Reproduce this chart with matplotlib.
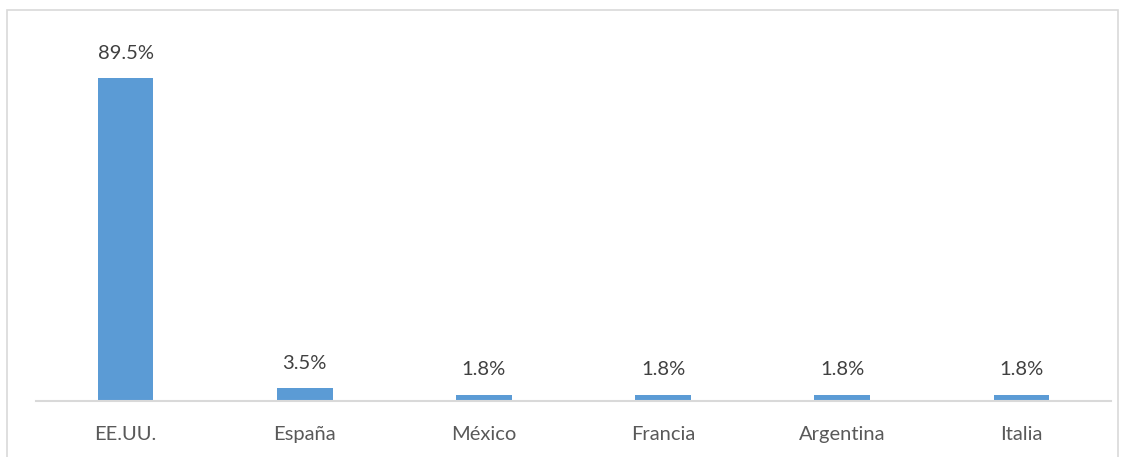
import matplotlib
matplotlib.use("Agg")
import matplotlib.pyplot as plt
from matplotlib.patches import Rectangle

paises = ["EE.UU.", "España", "México", "Francia", "Argentina", "Italia"]
porcentajes = [89.5, 3.5, 1.8, 1.8, 1.8, 1.8]
etiquetas = ["89.5%", "3.5%", "1.8%", "1.8%", "1.8%", "1.8%"]

plt.rcParams['font.family'] = ['Lato', 'DejaVu Sans']

W, H = 1126, 457
fig = plt.figure(figsize=(W / 100, H / 100), dpi=100)

# outer chart frame
fig.patches.append(Rectangle((7 / W, -0.05), (1118 - 7) / W, 1.05 - 10 / H,
                             transform=fig.transFigure, fill=False,
                             edgecolor="#D9D9D9", linewidth=1.2))

ax = fig.add_axes([36 / W, (H - 401) / H, (1111 - 36) / W, (401 - 30) / H])
x = range(len(paises))
ax.bar(x, porcentajes, width=0.31, color="#5B9BD5")
for xi, v, t in zip(x, porcentajes, etiquetas):
    ax.text(xi, v + 4.5, t, ha="center", va="bottom", fontsize=14.5, color="#404040")

ax.set_xlim(-0.5, len(paises) - 0.5)
ax.set_ylim(0, 102.8)
ax.set_xticks(list(x))
ax.set_xticklabels(paises, fontsize=14.5, color="#595959")
ax.tick_params(axis="x", length=0, pad=18)
ax.set_yticks([])
for s in ["top", "right", "left"]:
    ax.spines[s].set_visible(False)
ax.spines["bottom"].set_color("#D9D9D9")
ax.spines["bottom"].set_linewidth(1.5)

fig.savefig("out.png", dpi=100)
